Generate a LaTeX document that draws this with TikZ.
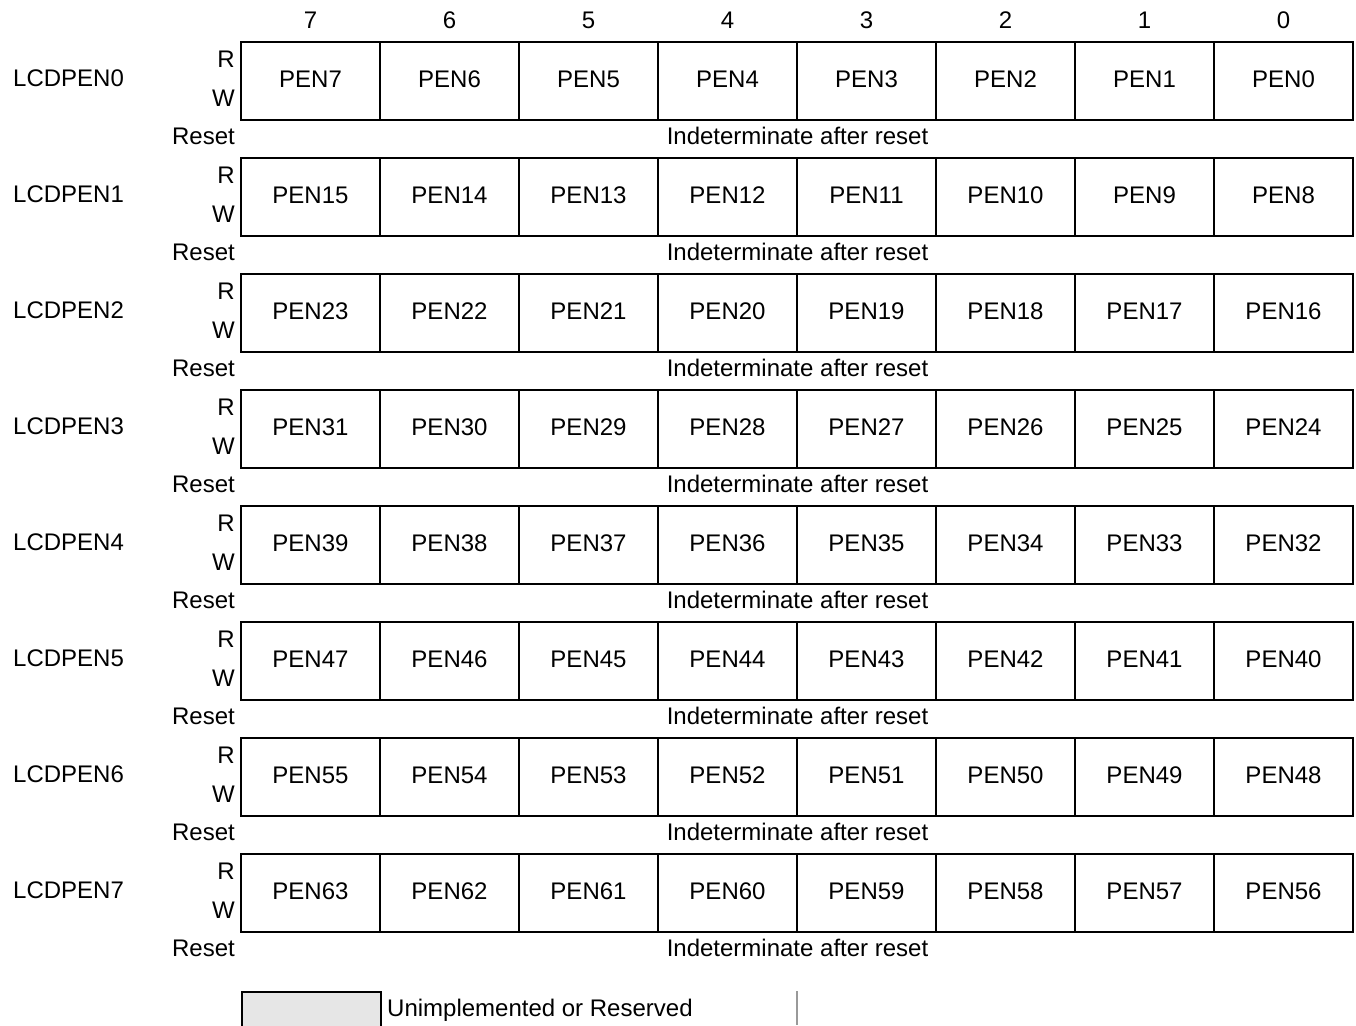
\documentclass[tikz,border=0pt]{standalone}
\usepackage{fontspec}
\setmainfont{Liberation Sans}
\definecolor{legendgray}{HTML}{E6E6E6}
\definecolor{sepgray}{HTML}{999999}
\begin{document}
\begin{tikzpicture}[x=1pt,y=-1pt,
  txt/.style={font=\fontsize{24}{28}\selectfont, inner sep=0pt, text=black},
  cell/.style={draw, line width=1.5pt, minimum width=139pt, minimum height=78pt, inner sep=0pt},
  legendbox/.style={draw, line width=1.5pt, fill=legendgray, minimum width=139pt, minimum height=36pt, inner sep=0pt},
]
\useasboundingbox (0,0) rectangle (1356,1025);
% bit numbers
\foreach \b [count=\c from 0] in {7,6,5,4,3,2,1,0} {
  \node[txt, anchor=base] (bit\b) at ({310.5+139*\c},29) {\b};
}
% registers
\foreach \r in {0,...,7} {
  \pgfmathsetmacro{\yt}{42+116*\r}
  \node[txt, anchor=base west] (reg\r) at (13,{\yt+44}) {LCDPEN\r};
  \node[txt, anchor=base east] (rd\r) at (235,{\yt+25.3}) {R};
  \node[txt, anchor=base east] (wr\r) at (235,{\yt+64}) {W};
  \node[txt, anchor=base east] (rst\r) at (235,{\yt+102}) {Reset};
  \node[txt, anchor=base] (ind\r) at (797.5,{\yt+102}) {Indeterminate after reset};
  \foreach \c in {0,...,7} {
    \pgfmathtruncatemacro{\p}{8*\r+7-\c}
    \node[cell] (cell\r-\c) at ({310.5+139*\c},{\yt+39}) {};
    \node[txt, anchor=base] (pen\r-\c) at ({310.5+139*\c},{\yt+45.5}) {PEN\p};
  }
}
% legend
\node[legendbox, anchor=north west] (legend) at (241,991) {};
\node[txt, anchor=base west] (legtxt) at (387,1016) {Unimplemented or Reserved};
\coordinate (sept) at (797,991);
\coordinate (sepb) at (797,1025);
\draw[sepgray, line width=1.2pt] (sept) -- (sepb);
\end{tikzpicture}
\end{document}
